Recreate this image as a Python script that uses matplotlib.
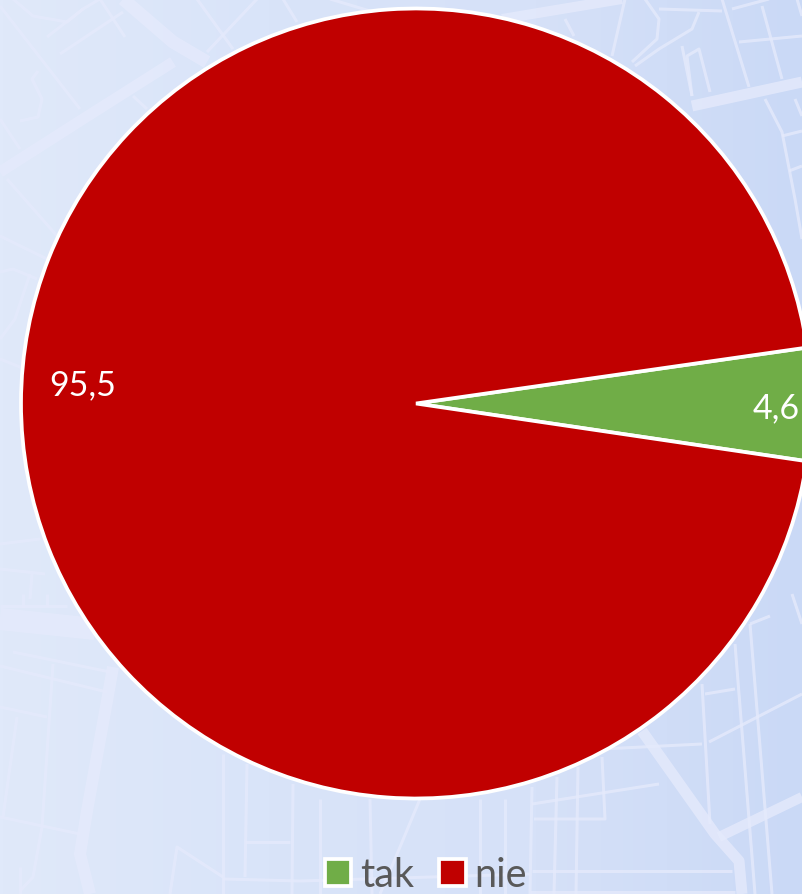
import numpy as np
import matplotlib
matplotlib.use("Agg")
import matplotlib.pyplot as plt
from matplotlib.colors import LinearSegmentedColormap

categories = ["tak", "nie"]
values = [4.6, 95.5]
value_labels = ["4,6", "95,5"]
colors = ["#70AD47", "#C00000"]

W, H = 802, 895
plt.rcParams['font.family'] = ['Lato', 'DejaVu Sans']

# decorative map background: (width_px, polyline in image pixels)
roads = [
    (13, [(123,0),(173,43),(207,63)]), (11, [(0,173),(83,120),(173,63)]),
    (3, [(0,7),(80,110)]), (3, [(38,72),(32,80),(42,100),(38,118),(20,122)]),
    (3, [(47,38),(83,10),(100,0)]), (3, [(60,55),(123,13)]), (3, [(100,0),(125,38)]),
    (3, [(13,0),(33,17),(67,23),(83,10)]), (3, [(0,120),(20,150)]), (3, [(7,180),(57,237)]),
    (3, [(0,237),(47,260)]), (3, [(0,273),(13,270),(37,280)]), (3, [(197,0),(233,50)]),
    (3, [(207,53),(257,0)]), (3, [(133,97),(147,110)]), (3, [(283,0),(297,23)]),
    (3, [(330,0),(370,12)]),
    (3, [(0,340),(15,320),(30,275)]), (3, [(0,360),(25,370)]), (3, [(0,545),(40,540)]),
    (3, [(0,570),(45,575)]), (3, [(30,600),(32,575)]),
    (22, [(0,620),(95,630)]), (3, [(13,653),(110,673)]), (3, [(0,667),(107,693)]),
    (3, [(0,708),(47,718)]), (3, [(53,665),(42,828),(33,878),(20,892)]), (3, [(17,718),(3,818)]),
    (3, [(0,818),(80,835)]), (12, [(113,668),(107,702),(87,812),(80,855),(90,895)]),
    (3, [(20,868),(20,895)]), (3, [(170,895),(177,848),(223,878)]), (3, [(223,755),(223,895)]),
    (3, [(247,765),(245,878)]), (3, [(293,785),(292,895)]), (3, [(245,843),(290,843)]),
    (3, [(223,880),(300,882)]), (3, [(23,595),(23,608)]), (3, [(47,595),(47,608)]),
    (3, [(0,607),(67,607)]),
    (3, [(320,800),(320,895)]), (3, [(370,800),(372,895)]), (3, [(420,800),(395,860),(380,895)]),
    (3, [(300,882),(530,875)]), (3, [(480,800),(480,895)]), (3, [(505,800),(505,895)]),
    (11, [(642,732),(715,835),(739,862),(742,895)]), (10, [(719,838),(802,798)]),
    (3, [(702,685),(710,825)]), (3, [(735,645),(755,895)]), (3, [(750,625),(772,895)]),
    (3, [(750,625),(770,617)]), (3, [(705,695),(735,690)]), (3, [(709,743),(802,695)]),
    (3, [(792,595),(802,625)]), (3, [(602,750),(702,745)]), (3, [(532,805),(659,785)]),
    (3, [(532,788),(530,895)]), (3, [(557,778),(554,895)]), (3, [(578,768),(576,895)]),
    (3, [(602,758),(605,820),(534,820)]), (3, [(532,872),(732,872)]), (3, [(530,893),(735,893)]),
    (10, [(502,20),(622,0)]), (11, [(692,107),(802,83)]), (3, [(722,0),(749,88)]),
    (3, [(762,7),(782,80)]), (3, [(797,0),(802,17)]), (3, [(732,10),(769,0)]),
    (3, [(739,43),(802,37)]), (3, [(625,0),(612,57)]),
    (3, [(645,0),(659,20),(657,40),(632,63)]), (3, [(659,10),(722,12)]),
    (3, [(699,13),(692,30),(659,50),(635,67)]), (3, [(692,97),(687,57),(699,50),(710,93)]),
    (3, [(682,47),(692,97)]), (3, [(765,100),(782,133),(795,200),(802,240)]), (3, [(795,100),(802,117)]),
    (3, [(782,137),(802,132)]), (3, [(789,172),(802,167)]), (3, [(565,20),(574,37)]),
]

fig = plt.figure(figsize=(W / 100, H / 100), dpi=100)
ax = fig.add_axes([0, 0, 1, 1])

wedges, _ = ax.pie(values, colors=colors, startangle=-8.4, center=(416, H - 404.5), radius=395,
                   wedgeprops=dict(edgecolor="white", linewidth=2.7, zorder=3),
                   labels=None)
ax.set_aspect("auto")
ax.set_axis_off()

cmap = LinearSegmentedColormap.from_list("bg", ["#E0E9FA", "#D9E4F9", "#D6E1F8", "#CAD9F6"])
grad = np.linspace(0, 1, 256)[None, :]
ax.imshow(grad, extent=(0, W, 0, H), aspect="auto", cmap=cmap, zorder=0)
ax.set_xlim(0, W)
ax.set_ylim(0, H)

for width, pts in roads:
    xs, ys = zip(*pts)
    ax.plot(xs, [H - y for y in ys], color="#E5EAFC", lw=width * 0.72, alpha=0.8,
            solid_capstyle="butt", solid_joinstyle="round", zorder=1)

label_px = [(776, 408), (83, 385)]
for txt, (px, py) in zip(value_labels, label_px):
    ax.text(px, H - py, txt, color="white", fontsize=24.5, ha="center", va="center", zorder=5)

leg = ax.legend(wedges, categories, loc="lower left", bbox_to_anchor=(325 / W, 1 / H), ncol=2,
                frameon=False, fontsize=28.5, labelcolor="#595959", handlelength=0.667, handleheight=0.667,
                handletextpad=0.225, columnspacing=0.63, borderpad=0, borderaxespad=0)
leg.set_zorder(6)

fig.savefig("out.png", dpi=100)
